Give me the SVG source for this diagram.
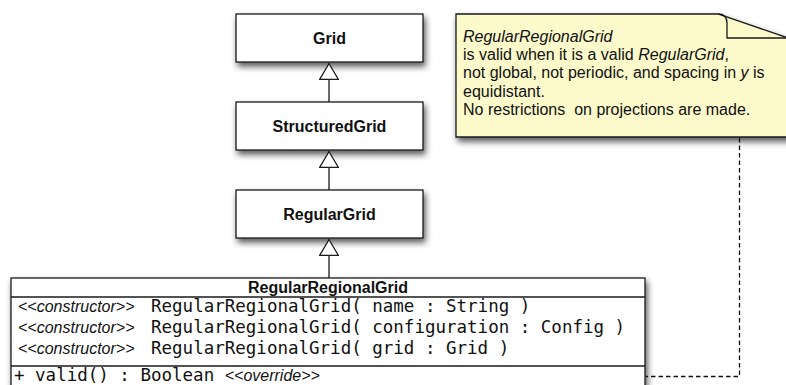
<svg xmlns="http://www.w3.org/2000/svg" width="786" height="385" viewBox="0 0 786 385">
<style>
.box{fill:#fff;stroke:#1a1a1a;stroke-width:1.3}
.lbl{font-family:"Liberation Sans",Arial,sans-serif;font-weight:bold;font-size:16px;fill:#111;text-anchor:middle}
.mono{font-family:"DejaVu Sans Mono",monospace;font-size:17.5px;fill:#111}
.ital{font-family:"Liberation Sans",Arial,sans-serif;font-style:italic;font-size:16px;fill:#111}
.note{font-family:"Liberation Sans",Arial,sans-serif;font-size:16px;fill:#111}
.edge{fill:none;stroke:#1a1a1a;stroke-width:1.3}
.dash{fill:none;stroke:#111;stroke-width:1.3;stroke-dasharray:4.5 3}
.sep{stroke:#1a1a1a;stroke-width:1.3}
</style>
<defs>
<filter id="sh" x="-10%" y="-20%" width="130%" height="160%">
<feDropShadow dx="2" dy="4" stdDeviation="3" flood-color="#000" flood-opacity="0.65"/>
</filter>
<marker id="tri" viewBox="0 0 17 20" refX="17" refY="10" markerWidth="17" markerHeight="20" orient="auto" markerUnits="userSpaceOnUse">
<path d="M0.6,0.6 L16.4,10 L0.6,19.4 Z" fill="#fff" stroke="#1a1a1a" stroke-width="1.2"/>
</marker>
</defs>
<rect width="786" height="385" fill="#fff"/>
<g id="note">
<path d="M456,14 L718,14 L800,42 L800,137 L456,137 Z" fill="#FCFACB" stroke="#1a1a1a" stroke-width="1.3" filter="url(#sh)"/>
<path d="M718,14 Q727,14 727,23 L727,38 L800,38" fill="none" stroke="#1a1a1a" stroke-width="1.3"/>
<text class="note" x="463" y="41.7"><tspan font-style="italic">RegularRegionalGrid</tspan></text>
<text class="note" x="463" y="60">is valid when it is a valid <tspan font-style="italic">RegularGrid</tspan>,</text>
<text class="note" x="463" y="78.3">not global, not periodic, and spacing in <tspan font-style="italic">y</tspan> is</text>
<text class="note" x="463" y="96.7">equidistant.</text>
<text class="note" x="463" y="115" xml:space="preserve">No restrictions  on projections are made.</text>
</g>
<g id="Grid">
<rect class="box" x="236" y="14" width="187" height="48" filter="url(#sh)"/>
<text class="lbl" x="329.5" y="43.7">Grid</text>
</g>
<g id="StructuredGrid">
<rect class="box" x="236" y="102" width="187" height="48" filter="url(#sh)"/>
<text class="lbl" x="329.5" y="131.7">StructuredGrid</text>
</g>
<g id="RegularGrid">
<rect class="box" x="236" y="190" width="187" height="48" filter="url(#sh)"/>
<text class="lbl" x="329.5" y="219.7">RegularGrid</text>
</g>
<g id="RegularRegionalGrid">
<rect class="box" x="11" y="278" width="634" height="130" filter="url(#sh)"/>
<line class="sep" x1="11" y1="297" x2="645" y2="297"/>
<line class="sep" x1="11" y1="366" x2="645" y2="366"/>
<text class="lbl" x="328" y="293">RegularRegionalGrid</text>
<text class="ital" x="18" y="312">&lt;&lt;constructor&gt;&gt;</text>
<text class="mono" x="151" y="312">RegularRegionalGrid( name : String )</text>
<text class="ital" x="18" y="333">&lt;&lt;constructor&gt;&gt;</text>
<text class="mono" x="151" y="333">RegularRegionalGrid( configuration : Config )</text>
<text class="ital" x="18" y="354">&lt;&lt;constructor&gt;&gt;</text>
<text class="mono" x="151" y="354">RegularRegionalGrid( grid : Grid )</text>
<text class="mono" x="14" y="381">+ valid() : Boolean <tspan class="ital" font-size="16px">&lt;&lt;override&gt;&gt;</tspan></text>
</g>
<g id="connectors">
<path class="edge" d="M329,102 L329,63" marker-end="url(#tri)"/>
<path class="edge" d="M329,190 L329,151" marker-end="url(#tri)"/>
<path class="edge" d="M329,278 L329,239" marker-end="url(#tri)"/>
<path class="dash" d="M739.5,138 L739.5,376.5 L646,376.5"/>
</g>
</svg>
